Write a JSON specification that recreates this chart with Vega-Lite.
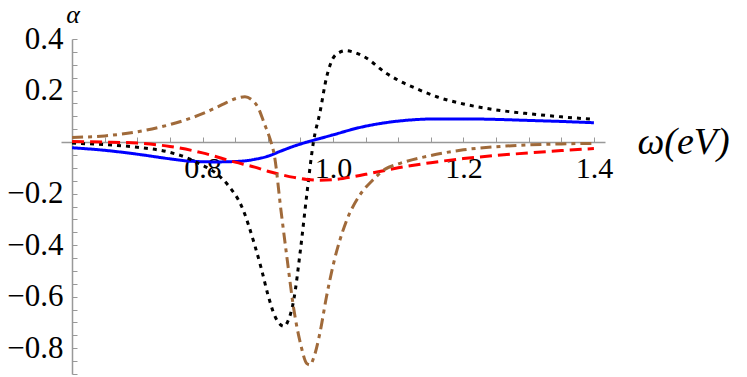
{
  "$schema": "https://vega.github.io/schema/vega-lite/v6.json",
  "autosize": {"type": "none"},
  "padding": {"left": 61, "top": 39, "right": 142, "bottom": 3},
  "width": 544,
  "height": 335,
  "background": "white",
  "config": {"view": {"stroke": null}},
  "data": {"values": [
    {"s": "blue", "w": 0.60, "a": -0.022},
    {"s": "blue", "w": 0.65, "a": -0.032},
    {"s": "blue", "w": 0.70, "a": -0.047},
    {"s": "blue", "w": 0.75, "a": -0.065},
    {"s": "blue", "w": 0.78, "a": -0.074},
    {"s": "blue", "w": 0.82, "a": -0.077},
    {"s": "blue", "w": 0.86, "a": -0.074},
    {"s": "blue", "w": 0.88, "a": -0.067},
    {"s": "blue", "w": 0.90, "a": -0.055},
    {"s": "blue", "w": 0.92, "a": -0.035},
    {"s": "blue", "w": 0.94, "a": -0.016},
    {"s": "blue", "w": 0.96, "a": 0.000},
    {"s": "blue", "w": 0.98, "a": 0.014},
    {"s": "blue", "w": 1.00, "a": 0.028},
    {"s": "blue", "w": 1.04, "a": 0.056},
    {"s": "blue", "w": 1.08, "a": 0.075},
    {"s": "blue", "w": 1.12, "a": 0.086},
    {"s": "blue", "w": 1.16, "a": 0.090},
    {"s": "blue", "w": 1.20, "a": 0.090},
    {"s": "blue", "w": 1.25, "a": 0.088},
    {"s": "blue", "w": 1.30, "a": 0.084},
    {"s": "blue", "w": 1.35, "a": 0.080},
    {"s": "blue", "w": 1.40, "a": 0.075},

    {"s": "black", "w": 0.60, "a": -0.004},
    {"s": "black", "w": 0.65, "a": -0.010},
    {"s": "black", "w": 0.70, "a": -0.020},
    {"s": "black", "w": 0.75, "a": -0.040},
    {"s": "black", "w": 0.78, "a": -0.065},
    {"s": "black", "w": 0.80, "a": -0.090},
    {"s": "black", "w": 0.82, "a": -0.120},
    {"s": "black", "w": 0.84, "a": -0.170},
    {"s": "black", "w": 0.86, "a": -0.250},
    {"s": "black", "w": 0.88, "a": -0.400},
    {"s": "black", "w": 0.89, "a": -0.490},
    {"s": "black", "w": 0.90, "a": -0.590},
    {"s": "black", "w": 0.91, "a": -0.670},
    {"s": "black", "w": 0.92, "a": -0.710},
    {"s": "black", "w": 0.925, "a": -0.715},
    {"s": "black", "w": 0.93, "a": -0.700},
    {"s": "black", "w": 0.94, "a": -0.610},
    {"s": "black", "w": 0.95, "a": -0.420},
    {"s": "black", "w": 0.96, "a": -0.200},
    {"s": "black", "w": 0.97, "a": 0.000},
    {"s": "black", "w": 0.98, "a": 0.115},
    {"s": "black", "w": 0.99, "a": 0.250},
    {"s": "black", "w": 1.00, "a": 0.325},
    {"s": "black", "w": 1.01, "a": 0.348},
    {"s": "black", "w": 1.02, "a": 0.355},
    {"s": "black", "w": 1.03, "a": 0.350},
    {"s": "black", "w": 1.05, "a": 0.328},
    {"s": "black", "w": 1.08, "a": 0.270},
    {"s": "black", "w": 1.10, "a": 0.240},
    {"s": "black", "w": 1.13, "a": 0.205},
    {"s": "black", "w": 1.16, "a": 0.175},
    {"s": "black", "w": 1.20, "a": 0.148},
    {"s": "black", "w": 1.25, "a": 0.125},
    {"s": "black", "w": 1.30, "a": 0.110},
    {"s": "black", "w": 1.35, "a": 0.098},
    {"s": "black", "w": 1.40, "a": 0.088},

    {"s": "red", "w": 0.60, "a": 0.002},
    {"s": "red", "w": 0.65, "a": 0.000},
    {"s": "red", "w": 0.70, "a": -0.004},
    {"s": "red", "w": 0.75, "a": -0.017},
    {"s": "red", "w": 0.80, "a": -0.042},
    {"s": "red", "w": 0.85, "a": -0.078},
    {"s": "red", "w": 0.88, "a": -0.097},
    {"s": "red", "w": 0.90, "a": -0.113},
    {"s": "red", "w": 0.92, "a": -0.126},
    {"s": "red", "w": 0.94, "a": -0.137},
    {"s": "red", "w": 0.96, "a": -0.145},
    {"s": "red", "w": 0.98, "a": -0.148},
    {"s": "red", "w": 1.00, "a": -0.146},
    {"s": "red", "w": 1.03, "a": -0.135},
    {"s": "red", "w": 1.06, "a": -0.120},
    {"s": "red", "w": 1.10, "a": -0.100},
    {"s": "red", "w": 1.15, "a": -0.080},
    {"s": "red", "w": 1.20, "a": -0.064},
    {"s": "red", "w": 1.25, "a": -0.052},
    {"s": "red", "w": 1.30, "a": -0.042},
    {"s": "red", "w": 1.35, "a": -0.033},
    {"s": "red", "w": 1.40, "a": -0.025},

    {"s": "brown", "w": 0.60, "a": 0.018},
    {"s": "brown", "w": 0.65, "a": 0.024},
    {"s": "brown", "w": 0.70, "a": 0.040},
    {"s": "brown", "w": 0.75, "a": 0.068},
    {"s": "brown", "w": 0.80, "a": 0.110},
    {"s": "brown", "w": 0.83, "a": 0.145},
    {"s": "brown", "w": 0.85, "a": 0.168},
    {"s": "brown", "w": 0.865, "a": 0.176},
    {"s": "brown", "w": 0.875, "a": 0.165},
    {"s": "brown", "w": 0.885, "a": 0.135},
    {"s": "brown", "w": 0.895, "a": 0.070},
    {"s": "brown", "w": 0.905, "a": 0.000},
    {"s": "brown", "w": 0.91, "a": -0.050},
    {"s": "brown", "w": 0.92, "a": -0.260},
    {"s": "brown", "w": 0.93, "a": -0.460},
    {"s": "brown", "w": 0.94, "a": -0.650},
    {"s": "brown", "w": 0.95, "a": -0.780},
    {"s": "brown", "w": 0.96, "a": -0.860},
    {"s": "brown", "w": 0.965, "a": -0.865},
    {"s": "brown", "w": 0.97, "a": -0.840},
    {"s": "brown", "w": 0.98, "a": -0.740},
    {"s": "brown", "w": 0.99, "a": -0.600},
    {"s": "brown", "w": 1.00, "a": -0.480},
    {"s": "brown", "w": 1.02, "a": -0.310},
    {"s": "brown", "w": 1.04, "a": -0.210},
    {"s": "brown", "w": 1.06, "a": -0.150},
    {"s": "brown", "w": 1.08, "a": -0.105},
    {"s": "brown", "w": 1.10, "a": -0.085},
    {"s": "brown", "w": 1.15, "a": -0.052},
    {"s": "brown", "w": 1.20, "a": -0.030},
    {"s": "brown", "w": 1.25, "a": -0.018},
    {"s": "brown", "w": 1.30, "a": -0.011},
    {"s": "brown", "w": 1.35, "a": -0.007},
    {"s": "brown", "w": 1.40, "a": -0.005}
  ]},
  "mark": {"type": "line", "strokeWidth": 3, "interpolate": "monotone", "clip": false},
  "encoding": {
    "x": {
      "field": "w", "type": "quantitative",
      "scale": {"domain": [0.583, 1.417], "nice": false, "zero": false},
      "axis": {
        "orient": "bottom",
        "offset": -232,
        "values": [0.6,0.65,0.7,0.75,0.8,0.85,0.9,0.95,1.0,1.05,1.1,1.15,1.2,1.25,1.3,1.35,1.4],
        "labelExpr": "(abs(datum.value*5 - round(datum.value*5)) > 0.001 || datum.value < 0.7) ? '' : format(datum.value, '.1f')",
        "labelFont": "Liberation Serif",
        "labelFontSize": 30,
        "labelColor": "black",
        "labelBaseline": "alphabetic",
        "labelPadding": 40,
        "labelOverlap": false,
        "labelFlush": false,
        "labelBound": false,
        "tickSize": -5,
        "tickColor": "#999999",
        "domainColor": "#999999",
        "domainWidth": 1.5,
        "tickWidth": 1,
        "grid": false,
        "title": "ω(eV)",
        "titleFont": "Liberation Serif",
        "titleFontStyle": "italic",
        "titleFontWeight": "normal",
        "titleFontSize": 38,
        "titleColor": "black",
        "titleAlign": "left",
        "titleBaseline": "alphabetic",
        "titleAnchor": "start",
        "titleX": 576,
        "titleY": 11
      }
    },
    "y": {
      "field": "a", "type": "quantitative",
      "scale": {"domain": [-0.9, 0.4], "nice": false, "zero": false},
      "axis": {
        "orient": "left",
        "offset": -11,
        "values": [-0.9,-0.85,-0.8,-0.75,-0.7,-0.65,-0.6,-0.55,-0.5,-0.45,-0.4,-0.35,-0.3,-0.25,-0.2,-0.15,-0.1,-0.05,0,0.05,0.1,0.15,0.2,0.25,0.3,0.35,0.4],
        "labelExpr": "(abs(datum.value*5 - round(datum.value*5)) > 0.001 || abs(datum.value) < 0.001) ? '' : format(datum.value, '.1f')",
        "labelFont": "Liberation Serif",
        "labelFontSize": 31,
        "labelColor": "black",
        "labelBaseline": "middle",
        "labelPadding": 14,
        "labelOverlap": false,
        "labelFlush": false,
        "labelBound": false,
        "tickSize": -5,
        "tickColor": "#999999",
        "domainColor": "#999999",
        "domainWidth": 1.5,
        "tickWidth": 1,
        "grid": false,
        "title": "α",
        "titleFont": "Liberation Serif",
        "titleFontStyle": "italic",
        "titleFontWeight": "normal",
        "titleFontSize": 26,
        "titleColor": "black",
        "titleAngle": 0,
        "titleAlign": "center",
        "titleBaseline": "alphabetic",
        "titleX": 0.5,
        "titleY": -17
      }
    },
    "color": {
      "field": "s", "type": "nominal", "legend": null,
      "scale": {"domain": ["blue", "black", "red", "brown"], "range": ["#0000ff", "#000000", "#ff0000", "#a06a3a"]}
    },
    "strokeDash": {
      "field": "s", "type": "nominal", "legend": null,
      "scale": {"domain": ["blue", "black", "red", "brown"], "range": [[1, 0], [4, 5], [12, 6], [11, 5, 4, 5]]}
    }
  }
}
